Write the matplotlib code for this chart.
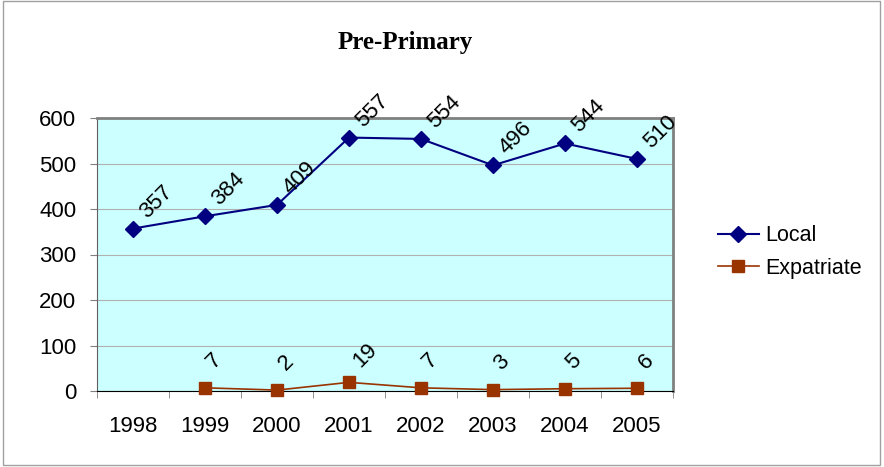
import numpy as np
import matplotlib.pyplot as plt
from matplotlib.patches import Rectangle

years = ['1998', '1999', '2000', '2001', '2002', '2003', '2004', '2005']
local = [357, 384, 409, 557, 554, 496, 544, 510]
expat = [np.nan, 7, 2, 19, 7, 3, 5, 6]   # no value for 1998

plt.rcParams['font.family'] = ['Liberation Sans', 'DejaVu Sans']

fig = plt.figure(figsize=(8.84, 4.67), dpi=100)
fig.patches.append(Rectangle((0.003, 0.004), 0.992, 0.993, transform=fig.transFigure,
                             fill=False, edgecolor='#a0a0a0', lw=1))
ax = fig.add_axes([97/884, 1 - 391/467, 576/884, 273/467])
ax.set_facecolor('#ccffff')

x = np.arange(len(years))
l1, = ax.plot(x, local, color='#000080', marker='D', markersize=8, lw=1.5,
              label='Local', clip_on=False, zorder=3)
l2, = ax.plot(x, expat, color='#993300', marker='s', markersize=9, lw=1.2,
              label='Expatriate', clip_on=False, zorder=3)


def label(xi, v):
    s = str(int(v))
    # rotated label centred above-right of the point, shifted by text length
    ax.annotate(s, (xi, v), xytext=(0.72 * (2 + 7 * len(s)), 0.72 * 27),
                textcoords='offset points', rotation=45, ha='center', va='center',
                fontsize=16, rotation_mode='anchor')


for xi, v in zip(x, local):
    label(xi, v)
for xi, v in zip(x, expat):
    if not np.isnan(v):
        label(xi, v)

ax.set_xlim(-0.5, 7.5)
ax.set_ylim(0, 600)
ax.set_yticks(np.arange(0, 601, 100))
ax.yaxis.grid(True, color='#b0b0b0', lw=0.8)
ax.set_axisbelow(True)
ax.set_xticks(x)
ax.set_xticklabels(years)
ax.set_xticks(np.arange(-0.5, 8, 1), minor=True)
ax.tick_params(axis='x', which='major', length=0, pad=18, labelsize=16)
ax.tick_params(axis='x', which='minor', length=5, color='#808080')
ax.tick_params(axis='y', length=5, pad=10, labelsize=16, color='#808080')

for s in ['top', 'right']:
    ax.spines[s].set_color('#808080')
    ax.spines[s].set_linewidth(2)
ax.spines['left'].set_color('#606060')
ax.spines['bottom'].set_color('#000000')

fig.text(405/884, 1 - 49/467, 'Pre-Primary', ha='center', va='baseline',
         fontsize=18, fontweight='bold', family='Liberation Serif')

fig.legend(handles=[l1, l2], loc='center left', bbox_to_anchor=(718/884, 1 - 252/467),
           frameon=False, fontsize=15.5, handlelength=1.9, labelspacing=0.55,
           handletextpad=0.3, borderpad=0, borderaxespad=0)

plt.savefig('out.png', dpi=100)
